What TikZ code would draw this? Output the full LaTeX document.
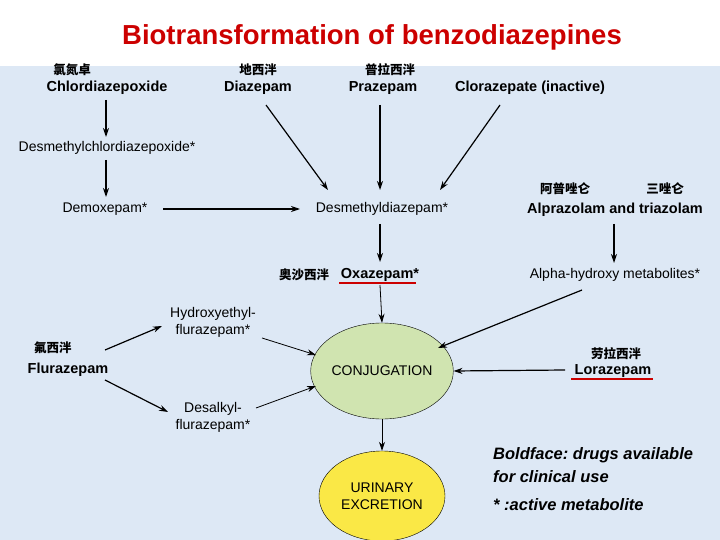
\documentclass[tikz,border=0pt]{standalone}
\usepackage{fontspec}
\setmainfont{Liberation Sans}
\newfontfamily\cjk{Noto Sans CJK SC}
\usetikzlibrary{arrows.meta,shapes.geometric}
\definecolor{bgblue}{RGB}{221,232,245}
\definecolor{titlered}{RGB}{204,0,0}
\definecolor{conjgreen}{RGB}{208,228,176}
\definecolor{urinyellow}{RGB}{250,232,70}
\tikzset{
  drug/.style={font=\bfseries\fontsize{14.5}{16}\selectfont,inner sep=0pt},
  metab/.style={font=\fontsize{14}{17}\selectfont,inner sep=0pt,align=center},
  zh/.style={font=\cjk\bfseries\fontsize{12.5}{14}\selectfont,inner sep=0pt},
  pool/.style={ellipse,draw,inner sep=0pt,font=\fontsize{14}{17}\selectfont,align=center},
  conv/.style={-{Stealth[length=9pt,width=6pt]},line width=1.2pt},
  thinconv/.style={-{Stealth[length=9pt,width=6pt]},line width=0.8pt},
  redline/.style={titlered,line width=1.5pt}
}
\begin{document}
\begin{tikzpicture}[x=1pt,y=-1pt]
  \useasboundingbox (0,0) rectangle (720,540);
  \fill[bgblue] (0,66) rectangle (720,540);
  \node[font=\bfseries\fontsize{27.5}{29}\selectfont,text=titlered] (title) at (372,37) {Biotransformation of benzodiazepines};
  % top row
  \node[zh] (zhchl) at (72,70) {氯氮卓};
  \node[drug] (chl) at (107,88) {Chlordiazepoxide};
  \node[zh] (zhdia) at (258,70) {地西泮};
  \node[drug] (dia) at (258,88) {Diazepam};
  \node[zh] (zhpra) at (390,70) {普拉西泮};
  \node[drug] (pra) at (383,88) {Prazepam};
  \node[drug] (clo) at (530,88) {Clorazepate (inactive)};
  % metabolites
  \node[metab] (dmc) at (107,148) {Desmethylchlordiazepoxide*};
  \node[metab] (dem) at (105,209) {Demoxepam*};
  \node[metab] (dmd) at (382,209) {Desmethyldiazepam*};
  \node[zh] (zhalp) at (565,189) {阿普唑仑};
  \node[zh] (zhtri) at (665,189) {三唑仑};
  \node[drug] (alp) at (615,210) {Alprazolam and triazolam};
  \node[zh] (zhoxa) at (304,275) {奥沙西泮};
  \node[drug] (oxa) at (380,275) {Oxazepam*};
  \draw[redline] (339,283) -- (416,283);
  \node[metab] (aho) at (615,275) {Alpha-hydroxy metabolites*};
  \node[metab] (hef) at (213,322) {Hydroxyethyl-\\flurazepam*};
  \node[zh] (zhflu) at (53,348) {氟西泮};
  \node[drug] (flu) at (68,370) {Flurazepam};
  \node[metab] (daf) at (213,417) {Desalkyl-\\flurazepam*};
  \node[zh] (zhlor) at (616,354) {劳拉西泮};
  \node[drug] (lor) at (613,371) {Lorazepam};
  \draw[redline] (571,379) -- (653,379);
  % pools
  \node[pool,fill=conjgreen,minimum width=126,minimum height=96] (conj) at (382,371) {CONJUGATION};
  \node[pool,fill=urinyellow,minimum width=126,minimum height=90] (uri) at (382,496) {URINARY\\EXCRETION};
  % legend
  \node[anchor=west,font=\bfseries\itshape\fontsize{16.5}{23}\selectfont,align=left,inner sep=0pt] (leg) at (493,465) {Boldface:\ drugs available\\for clinical use};
  \node[anchor=west,font=\bfseries\itshape\fontsize{16.5}{18}\selectfont,inner sep=0pt] (star) at (493,505) {* :active metabolite};
  % arrows
  \draw[conv] (106,100) -- (106,137);
  \draw[conv] (106,160) -- (106,197);
  \draw[conv] (163,209) -- (300,209);
  \draw[conv] (266,105) -- (328,190);
  \draw[conv] (380,105) -- (380,190);
  \draw[conv] (500,105) -- (440,190);
  \draw[conv] (380,224) -- (380,262);
  \draw[conv] (614,224) -- (614,263);
  \draw[thinconv] (380,285) -- (conj.north);
  \draw[conv] (582,290) -- (438,348);
  \draw[conv] (565,370) -- (conj.east);
  \draw[conv] (105,350) -- (162,326);
  \draw[conv] (105,380) -- (168,412);
  \draw[thinconv] (262,338) -- (316,355);
  \draw[thinconv] (256,408) -- (316,386);
  \draw[thinconv] (conj.south) -- (uri.north);
\end{tikzpicture}
\end{document}
